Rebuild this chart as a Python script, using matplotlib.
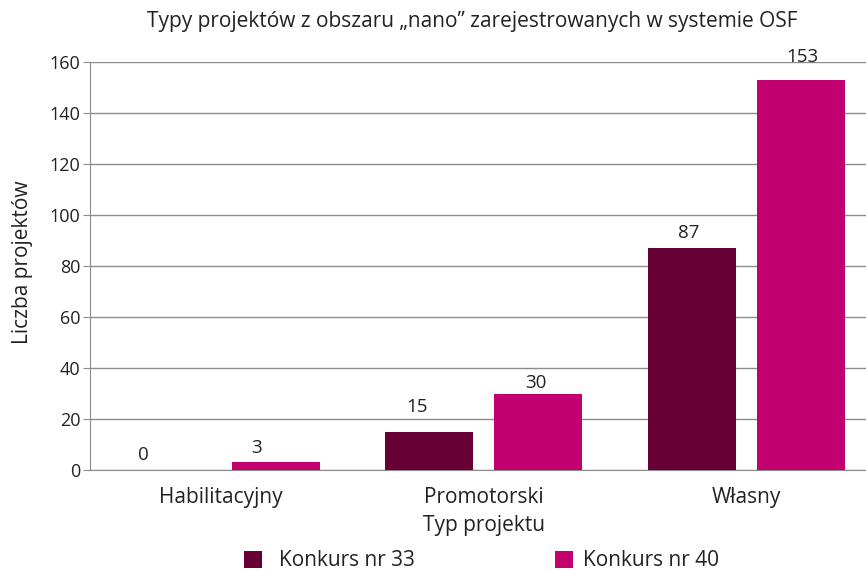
import matplotlib.pyplot as plt
import numpy as np

categories = ["Habilitacyjny", "Promotorski", "Własny"]
series_names = ["Konkurs nr 33", "Konkurs nr 40"]
konkurs_33 = [0, 15, 87]
konkurs_40 = [3, 30, 153]

DARK = "#660036"
MAGENTA = "#C3006F"
GRID = "#8c8c8c"
TEXT = "#222222"

# value-label nudges (points) to mimic the original label placement
label_shift_33 = [(-17, 4.3), (-9, 11.5), (-2, 4.3)]
label_shift_40 = [(-14, 3.6), (-2, 1.4), (1, 10)]

plt.rcParams["font.family"] = ["Open Sans", "DejaVu Sans"]

fig = plt.figure(figsize=(8.66, 5.71), dpi=100)
ax = fig.add_axes([90 / 866, 1 - 470 / 571, 787.5 / 866, 408 / 571])

x = np.arange(len(categories))
width = 0.335
off = 0.2076
b1 = ax.bar(x - off, konkurs_33, width, color=DARK, label=series_names[0], zorder=3)
b2 = ax.bar(x + off, konkurs_40, width, color=MAGENTA, label=series_names[1], zorder=3)

for bars, vals, shifts in [(b1, konkurs_33, label_shift_33), (b2, konkurs_40, label_shift_40)]:
    for bar, v, (dx, dy) in zip(bars, vals, shifts):
        ax.annotate(f"{v}", (bar.get_x() + bar.get_width() / 2, v),
                    xytext=(dx, dy), textcoords="offset points",
                    ha="center", va="bottom", fontsize=13.5, color=TEXT,
                    annotation_clip=False)

ax.set_xlim(-0.5, 2.5)
ax.set_ylim(0, 160)
ax.set_yticks(range(0, 161, 20))
ax.yaxis.grid(True, color=GRID, linewidth=1, zorder=0)
ax.set_axisbelow(True)
ax.set_xticks(x)
ax.set_xticklabels(categories, fontsize=15, color=TEXT)
ax.tick_params(axis="x", length=0, pad=12)
ax.tick_params(axis="y", length=5, color=GRID, labelsize=13, labelcolor=TEXT, pad=2)
for s in ["top", "right"]:
    ax.spines[s].set_visible(False)
for s in ["left", "bottom"]:
    ax.spines[s].set_color(GRID)

ax.set_xlabel("Typ projektu", fontsize=15, color=TEXT, labelpad=5)
ax.set_ylabel("Liczba projektów", fontsize=15, color=TEXT)
ax.yaxis.set_label_coords(-0.073, 0.51)

fig.text(472 / 866, 1 - 22 / 571, "Typy projektów z obszaru „nano” zarejestrowanych w systemie OSF",
         ha="center", va="center", fontsize=15, color=TEXT)

# two single-entry legends so each marker/text gap matches the original
for handle, name, x0, gap in [(b1, series_names[0], 244, 0.82), (b2, series_names[1], 555, 0.48)]:
    fig.legend(handles=[handle], labels=[name], loc="center left",
               bbox_to_anchor=(x0 / 866, 1 - 561 / 571), frameon=False,
               fontsize=15, handlelength=0.87, handleheight=0.87,
               handletextpad=gap, borderpad=0, borderaxespad=0, labelcolor=TEXT)

fig.savefig("out.png", dpi=100)
